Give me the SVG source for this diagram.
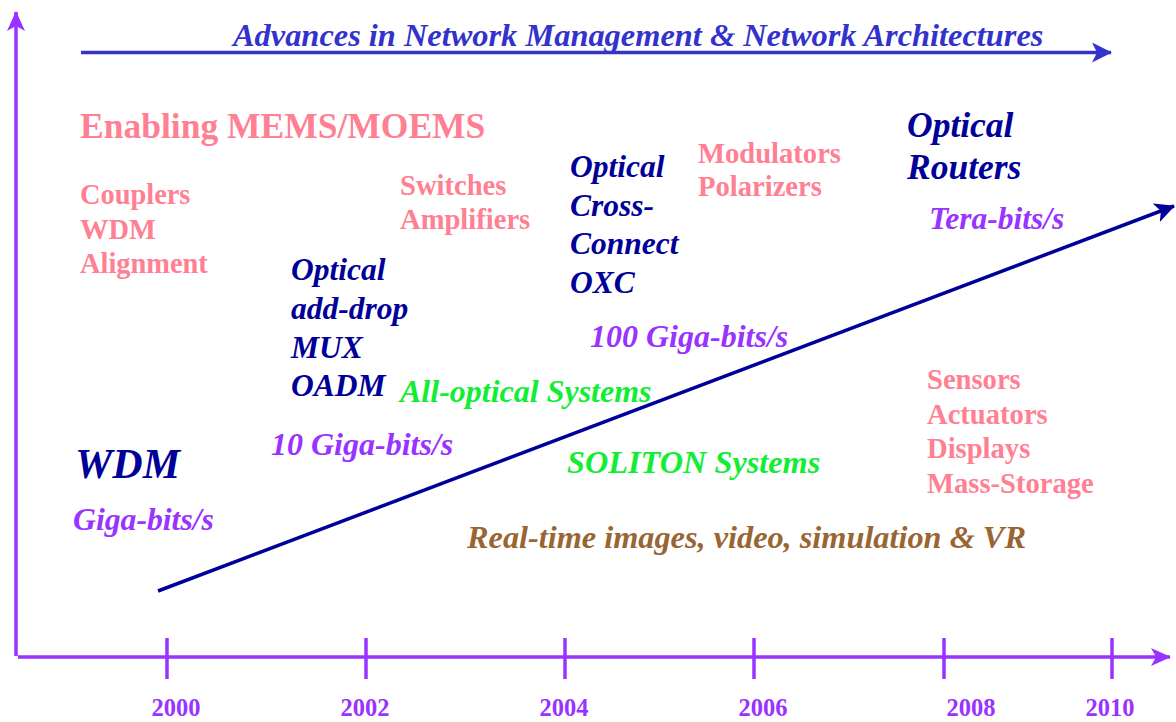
<svg xmlns="http://www.w3.org/2000/svg" width="1176" height="722" viewBox="0 0 1176 722">
<defs>
<marker id="ahPurple" viewBox="0 0 20 20" refX="19" refY="10" markerWidth="20" markerHeight="20" markerUnits="userSpaceOnUse" orient="auto">
<path d="M0,1 L20,10 L0,19 L5,10 Z" fill="#9933ff"/>
</marker>
<marker id="ahBlue" viewBox="0 0 20 20" refX="19" refY="10" markerWidth="20" markerHeight="20" markerUnits="userSpaceOnUse" orient="auto">
<path d="M0,0 L20,10 L0,20 L5,10 Z" fill="#3333cc"/>
</marker>
<marker id="ahNavy" viewBox="0 0 20 20" refX="19" refY="10" markerWidth="20" markerHeight="20" markerUnits="userSpaceOnUse" orient="auto">
<path d="M0,0 L20,10 L0,20 L5,10 Z" fill="#000099"/>
</marker>
</defs>
<style>
text{font-family:"Liberation Serif","Times New Roman",serif;font-weight:bold}
.it{font-style:italic}
.pink{fill:#ff8093}
.navy{fill:#000099}
.purple{fill:#9933ff}
.green{fill:#11ee33}
.brown{fill:#996633}
.blue{fill:#3333cc}
.axis{stroke:#9933ff;stroke-width:3.5;fill:none}
.year{font-size:24.5px;fill:#9933ff;text-anchor:middle}
</style>
<rect width="1176" height="722" fill="#ffffff"/>
<g id="connectors">
<line class="axis" x1="16" y1="656" x2="16" y2="12" marker-end="url(#ahPurple)"/>
<line class="axis" x1="18" y1="657" x2="1170" y2="657" marker-end="url(#ahPurple)"/>
<g class="axis" stroke-width="4">
<line x1="167" y1="638" x2="167" y2="679"/>
<line x1="366" y1="638" x2="366" y2="679"/>
<line x1="565" y1="638" x2="565" y2="679"/>
<line x1="754" y1="638" x2="754" y2="679"/>
<line x1="944" y1="638" x2="944" y2="679"/>
<line x1="1112" y1="638" x2="1112" y2="679"/>
</g>
<line x1="81" y1="52.5" x2="1111" y2="52.5" stroke="#3333cc" stroke-width="3.5" marker-end="url(#ahBlue)"/>
<line x1="158" y1="591" x2="1174" y2="206" stroke="#000099" stroke-width="3.5" marker-end="url(#ahNavy)"/>
</g>
<g id="years">
<text class="year" x="176" y="716">2000</text>
<text class="year" x="365" y="716">2002</text>
<text class="year" x="564" y="716">2004</text>
<text class="year" x="763" y="716">2006</text>
<text class="year" x="971" y="716">2008</text>
<text class="year" x="1110" y="716">2010</text>
</g>
<g id="title"><text class="it blue" x="233" y="46" font-size="32.4">Advances in Network Management &amp; Network Architectures</text></g>
<g id="enabling"><text class="pink" x="80" y="138" font-size="35.5">Enabling MEMS/MOEMS</text></g>
<g id="couplers">
<text class="pink" x="80" y="204" font-size="28.4">Couplers</text>
<text class="pink" x="80" y="239" font-size="28.4">WDM</text>
<text class="pink" x="80" y="273" font-size="28.4">Alignment</text>
</g>
<g id="switches">
<text class="pink" x="400" y="195" font-size="28.6">Switches</text>
<text class="pink" x="400" y="229" font-size="28.6">Amplifiers</text>
</g>
<g id="oxc">
<text class="it navy" x="570" y="177" font-size="31.5">Optical</text>
<text class="it navy" x="570" y="216" font-size="31.5">Cross-</text>
<text class="it navy" x="570" y="254" font-size="31.5">Connect</text>
<text class="it navy" x="570" y="293" font-size="31.5">OXC</text>
</g>
<g id="modulators">
<text class="pink" x="698" y="163" font-size="28.6">Modulators</text>
<text class="pink" x="698" y="196" font-size="28.6">Polarizers</text>
</g>
<g id="routers">
<text class="it navy" x="907" y="137" font-size="35.5">Optical</text>
<text class="it navy" x="907" y="179" font-size="35.5">Routers</text>
</g>
<g id="tera"><text class="it purple" x="929" y="229" font-size="31.5">Tera-bits/s</text></g>
<g id="oadm">
<text class="it navy" x="291" y="280" font-size="31.5">Optical</text>
<text class="it navy" x="291" y="319" font-size="31.5">add-drop</text>
<text class="it navy" x="291" y="358" font-size="31.5">MUX</text>
<text class="it navy" x="291" y="396" font-size="31.5">OADM</text>
</g>
<g id="allopt"><text class="it green" x="400" y="402" font-size="32">All-optical Systems</text></g>
<g id="g100"><text class="it purple" x="590" y="347" font-size="32">100 Giga-bits/s</text></g>
<g id="g10"><text class="it purple" x="271" y="455" font-size="32">10 Giga-bits/s</text></g>
<g id="wdm"><text class="it navy" x="75" y="478" font-size="42">WDM</text></g>
<g id="giga"><text class="it purple" x="73" y="530" font-size="31.7">Giga-bits/s</text></g>
<g id="soliton"><text class="it green" x="567" y="473" font-size="32.3">SOLITON Systems</text></g>
<g id="realtime"><text class="it brown" x="467" y="548" font-size="32.3">Real-time images, video, simulation &amp; VR</text></g>
<g id="sensors">
<text class="pink" x="927" y="389" font-size="28.6">Sensors</text>
<text class="pink" x="927" y="424" font-size="28.6">Actuators</text>
<text class="pink" x="927" y="458" font-size="28.6">Displays</text>
<text class="pink" x="927" y="493" font-size="28.6">Mass-Storage</text>
</g>
</svg>
